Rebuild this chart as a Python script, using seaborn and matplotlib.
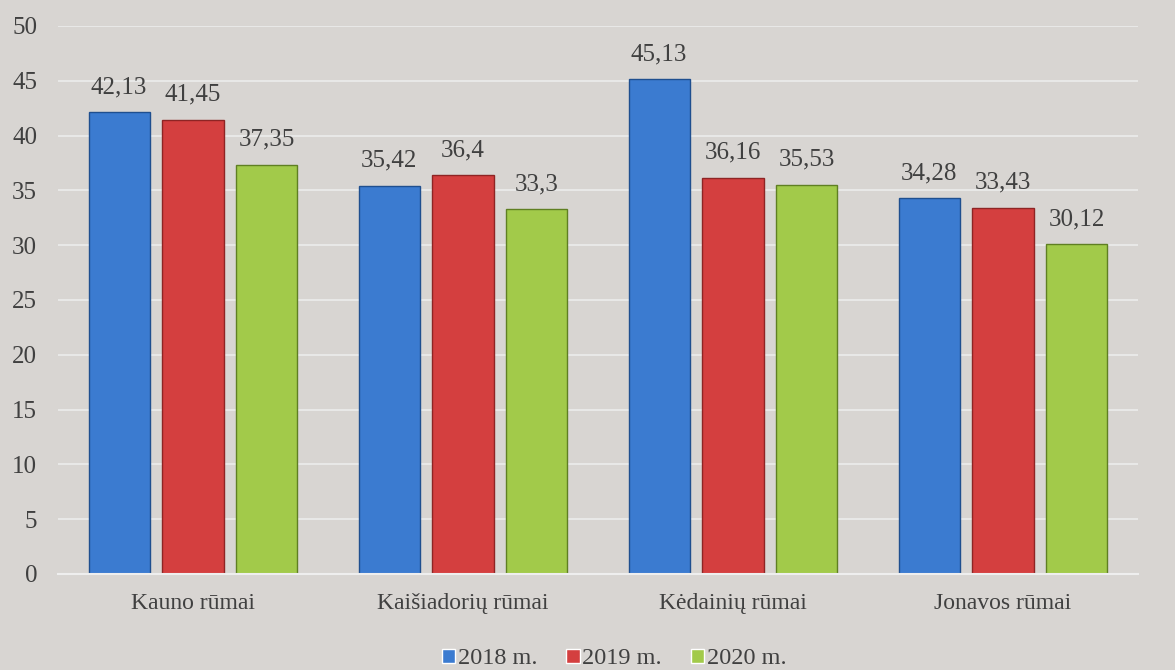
import matplotlib
matplotlib.use("Agg")
import matplotlib.pyplot as plt
import seaborn as sns
import pandas as pd

categories = ["Kauno rūmai", "Kaišiadorių rūmai", "Kėdainių rūmai", "Jonavos rūmai"]
series = ["2018 m.", "2019 m.", "2020 m."]
v2018 = [42.13, 35.42, 45.13, 34.28]
v2019 = [41.45, 36.4, 36.16, 33.43]
v2020 = [37.35, 33.3, 35.53, 30.12]
y_ticks = [0, 5, 10, 15, 20, 25, 30, 35, 40, 45, 50]

colors = ["#3b7bd0", "#d43f3f", "#a2ca4a"]
edges = ["#1f4f8f", "#8e2424", "#5f7f22"]

rows = []
for s, vals in zip(series, [v2018, v2019, v2020]):
    for c, v in zip(categories, vals):
        rows.append({"cat": c, "year": s, "val": v})
df = pd.DataFrame(rows)

sns.set_theme(style="white")
plt.rcParams["font.family"] = ["Liberation Serif", "DejaVu Serif"]
txt = "#404040"

fig = plt.figure(figsize=(11.75, 6.7), dpi=100)
bg = "#d8d5d2"
fig.patch.set_facecolor(bg)
ax = fig.add_axes([58/1175, 1-574/670, 1080/1175, 548/670])
ax.set_facecolor(bg)

sns.barplot(data=df, x="cat", y="val", hue="year", palette=colors,
            width=0.822, gap=0.175, ax=ax, legend=True, saturation=1)

for i, cont in enumerate(ax.containers):
    for p in cont.patches:
        p.set_edgecolor(edges[i])
        p.set_linewidth(1.0)
    labels = [("%g" % v).replace(".", ",") for v in [v2018, v2019, v2020][i]]
    ax.bar_label(cont, labels=labels, padding=10, fontsize=18, color=txt)

ax.set_ylim(0, 50)
ax.set_yticks(y_ticks)
ax.set_xlim(-0.5, 3.5)
ax.yaxis.grid(True, color="#ececec", linewidth=1.2)
ax.set_axisbelow(True)
for sp in ["top", "right", "left"]:
    ax.spines[sp].set_visible(False)
ax.spines["bottom"].set_color("#eeeeee")
ax.spines["bottom"].set_linewidth(1.5)
ax.tick_params(axis="y", length=0, labelsize=18, labelcolor=txt, pad=15)
ax.tick_params(axis="x", length=0, labelsize=17, labelcolor=txt, pad=14)
ax.set_xlabel("")
ax.set_ylabel("")

handles, labs = ax.get_legend_handles_labels()
ax.get_legend().remove()
fig.legend(handles, labs, loc="center", bbox_to_anchor=(614/1175, 1-659/670), ncol=3,
           frameon=False, fontsize=17.5, handlelength=0.55, handleheight=0.55,
           handletextpad=0.1, columnspacing=1.2, labelcolor=txt)

fig.savefig("out.png", dpi=100, facecolor=fig.get_facecolor())
